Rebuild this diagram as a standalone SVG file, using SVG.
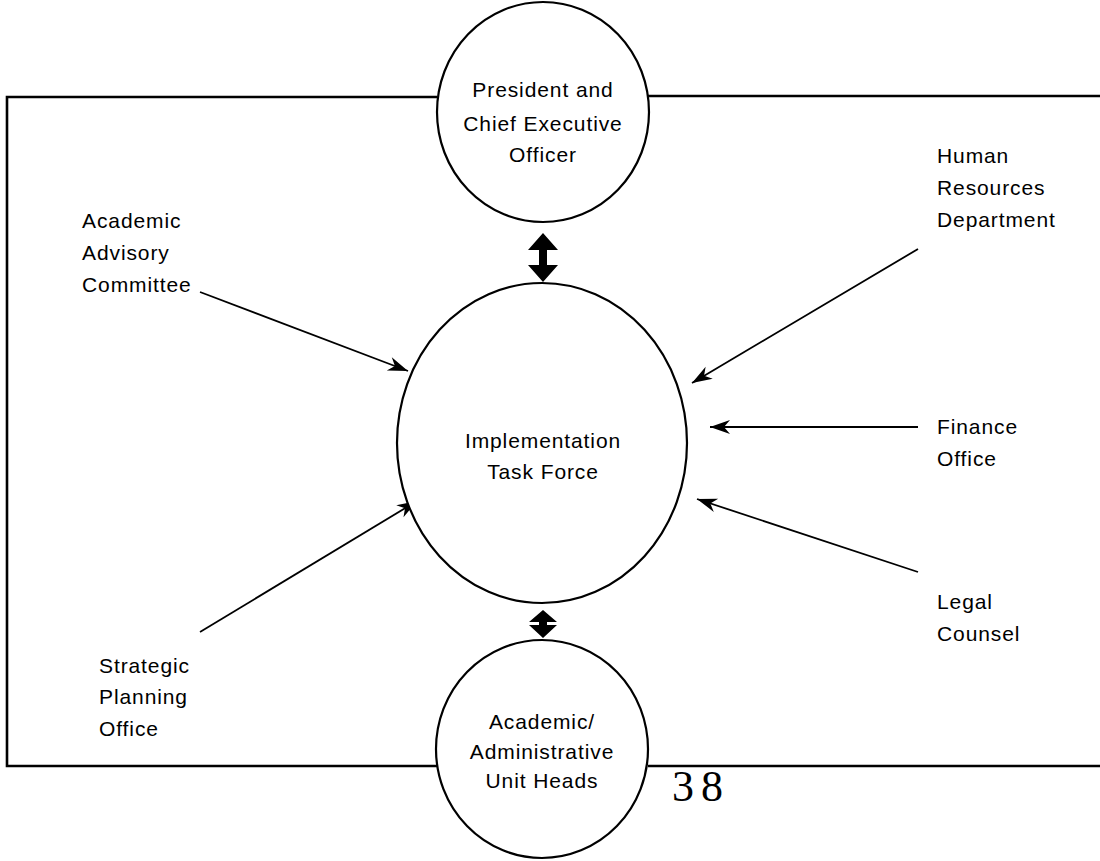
<svg xmlns="http://www.w3.org/2000/svg" width="1100" height="861" viewBox="0 0 1100 861">
  <style>
    .lbl { font-family: "Liberation Sans", Arial, sans-serif; font-size: 21px; letter-spacing: 0.9px; fill: #000; }
    .mid { text-anchor: middle; }
    .node { fill: #fff; stroke: #000; stroke-width: 2.2; }
    .frame { fill: none; stroke: #000; stroke-width: 2.6; }
    .link { fill: none; stroke: #000; stroke-width: 1.8; }
    .dbl { fill: #000; stroke: none; }
    .page { font-family: "Liberation Serif", "Times New Roman", serif; font-size: 44px; letter-spacing: 7px; fill: #000; }
  </style>
  <defs>
    <marker id="head" markerUnits="userSpaceOnUse" markerWidth="24" markerHeight="16" viewBox="-20 -8 22 16" refX="0" refY="0" orient="auto">
      <path d="M0,0 L-20,-7 L-14,0 L-20,7 Z" fill="#000"/>
    </marker>
  </defs>

  <!-- enclosing frame, broken by the top and bottom circles -->
  <g id="frame">
    <path class="frame" d="M437,97 H7 V766 H437"/>
    <path class="frame" d="M648,96 H1100"/>
    <path class="frame" d="M648,766 H1100"/>
  </g>

  <!-- connectors -->
  <g id="connectors">
    <line class="link" x1="200" y1="292" x2="408" y2="371" marker-end="url(#head)"/>
    <line class="link" x1="918" y1="249" x2="692" y2="383" marker-end="url(#head)"/>
    <line class="link" x1="918" y1="427" x2="710" y2="427" marker-end="url(#head)"/>
    <line class="link" x1="918" y1="572" x2="697" y2="499" marker-end="url(#head)"/>
    <line class="link" x1="200" y1="632" x2="417" y2="501" marker-end="url(#head)"/>
    <!-- two-way arrows above and below the task force -->
    <path class="dbl" d="M543,233 L558,250 L547,250 L547,265 L558,265 L543,282 L528,265 L539,265 L539,250 L528,250 Z"/>
    <path class="dbl" d="M543,610 L557,622 L547,622 L547,625 L557,625 L543,638 L529,625 L539,625 L539,622 L529,622 Z"/>
  </g>

  <g id="president">
    <ellipse class="node" cx="543" cy="112" rx="106" ry="110"/>
    <text class="lbl mid" x="543" y="97">President and</text>
    <text class="lbl mid" x="543" y="131">Chief Executive</text>
    <text class="lbl mid" x="543" y="162">Officer</text>
  </g>

  <g id="task-force">
    <ellipse class="node" cx="542" cy="443" rx="145" ry="160"/>
    <text class="lbl mid" x="543" y="448">Implementation</text>
    <text class="lbl mid" x="543" y="479">Task Force</text>
  </g>

  <g id="unit-heads">
    <ellipse class="node" cx="542" cy="749" rx="106" ry="109"/>
    <text class="lbl mid" x="542" y="729">Academic/</text>
    <text class="lbl mid" x="542" y="759">Administrative</text>
    <text class="lbl mid" x="542" y="788">Unit Heads</text>
  </g>

  <g id="advisory-committee">
    <text class="lbl" x="82" y="228">Academic</text>
    <text class="lbl" x="82" y="260">Advisory</text>
    <text class="lbl" x="82" y="292">Committee</text>
  </g>

  <g id="human-resources">
    <text class="lbl" x="937" y="163">Human</text>
    <text class="lbl" x="937" y="195">Resources</text>
    <text class="lbl" x="937" y="227">Department</text>
  </g>

  <g id="finance">
    <text class="lbl" x="937" y="434">Finance</text>
    <text class="lbl" x="937" y="466">Office</text>
  </g>

  <g id="legal">
    <text class="lbl" x="937" y="609">Legal</text>
    <text class="lbl" x="937" y="641">Counsel</text>
  </g>

  <g id="strategic-planning">
    <text class="lbl" x="99" y="673">Strategic</text>
    <text class="lbl" x="99" y="704">Planning</text>
    <text class="lbl" x="99" y="736">Office</text>
  </g>

  <text class="page" x="672" y="801">38</text>
</svg>
